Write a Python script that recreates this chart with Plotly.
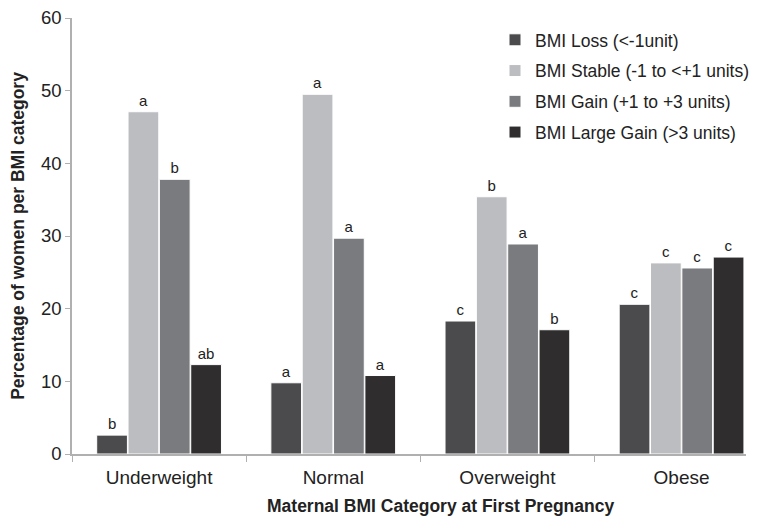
import plotly.graph_objects as go

categories = ["Underweight", "Normal", "Overweight", "Obese"]
series_names = ["BMI Loss (<-1unit)", "BMI Stable (-1 to <+1 units)",
                "BMI Gain (+1 to +3 units)", "BMI Large Gain (>3 units)"]
loss = [2.6, 9.8, 18.3, 20.6]
stable = [47.1, 49.5, 35.4, 26.3]
gain = [37.8, 29.7, 28.9, 25.6]
large_gain = [12.3, 10.8, 17.1, 27.1]
loss_letters = ["b", "a", "c", "c"]
stable_letters = ["a", "a", "b", "c"]
gain_letters = ["b", "a", "a", "c"]
large_letters = ["ab", "a", "b", "c"]
colors = ["#4b4b4d", "#bcbdc0", "#7a7b7e", "#2f2d2e"]

FONT = "Liberation Sans, Arial, sans-serif"

fig = go.Figure()
for name, vals, letters, col in zip(series_names, [loss, stable, gain, large_gain],
                                    [loss_letters, stable_letters, gain_letters, large_letters], colors):
    fig.add_trace(go.Bar(
        x=categories, y=vals, name=name, text=letters, textposition="outside",
        outsidetextfont=dict(size=15, color="#222222", family=FONT),
        cliponaxis=False,
        marker=dict(color=col, line=dict(color="white", width=1)),
        legendgroup=name,
    ))

fig.update_layout(
    width=757, height=518,
    paper_bgcolor="white", plot_bgcolor="white",
    margin=dict(l=64, r=19, t=10, b=72),
    barmode="group", bargap=0.28, bargroupgap=0.02,
    font=dict(family=FONT, color="#222222"),
    legend=dict(x=0.6276, y=0.991, xanchor="left", yanchor="top",
                font=dict(size=17.5, color="#222222"), tracegroupgap=5,
                bgcolor="rgba(0,0,0,0)", borderwidth=0),
    annotations=[dict(
        text="<b>Maternal BMI Category at First Pregnancy</b>",
        xref="paper", yref="paper", x=0.546, y=-0.119,
        xanchor="center", yanchor="middle", showarrow=False,
        font=dict(size=17.5, color="#222222", family=FONT),
    )],
)
fig.update_xaxes(
    range=[-0.5, 3.37], automargin=False,
    showline=True, linecolor="#b0b0b0", linewidth=1.5,
    ticks="outside", tickson="boundaries", ticklen=6, tickcolor="#b0b0b0",
    tickfont=dict(size=19, color="#222222"), ticklabelstandoff=5,
)
fig.update_yaxes(
    range=[0, 60], dtick=10, automargin=False,
    showline=True, linecolor="#b0b0b0", linewidth=1.5,
    ticks="outside", ticklen=5, tickcolor="#b0b0b0",
    showgrid=False, zeroline=False, ticklabeloverflow="allow",
    tickfont=dict(size=18.5, color="#222222"),
    title=dict(text="<b>Percentage of women per BMI category</b>",
               font=dict(size=17.5, color="#222222"), standoff=12),
)
fig.write_html("out.html")
